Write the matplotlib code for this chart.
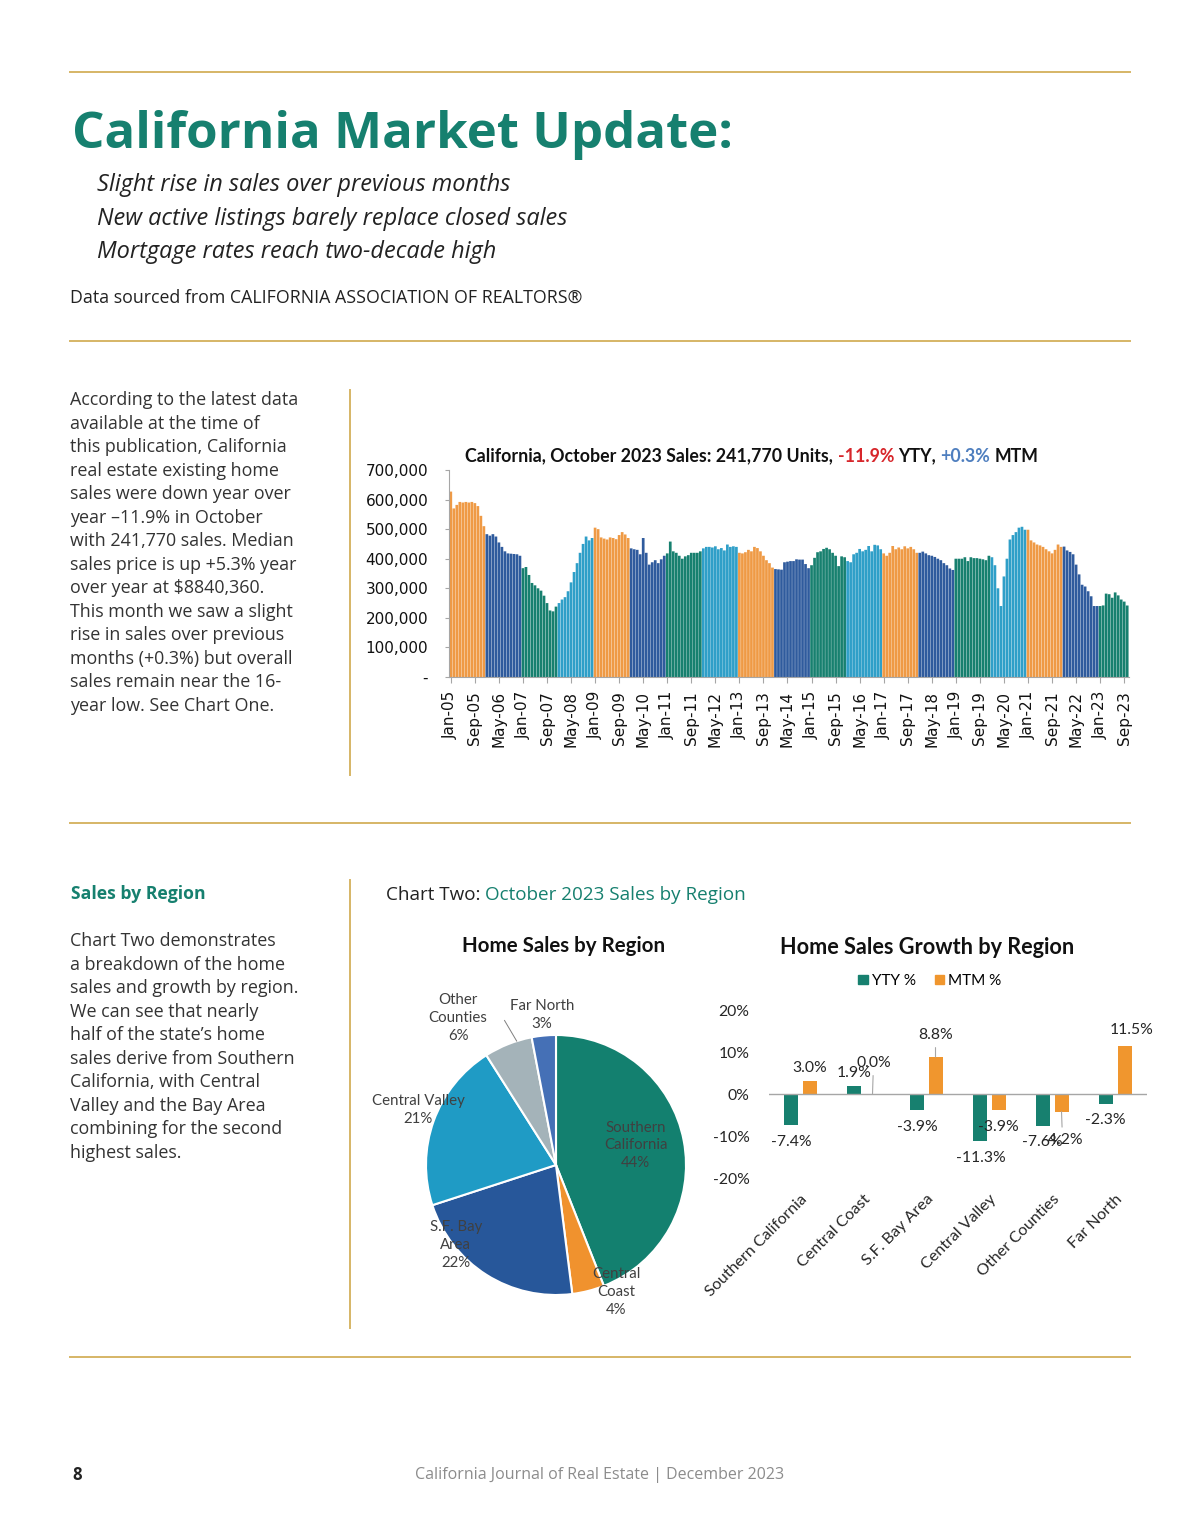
import matplotlib
matplotlib.use("Agg")
import matplotlib.pyplot as plt
from matplotlib.lines import Line2D
from matplotlib.patches import Patch
import numpy as np

W, H = 1200, 1535
TEAL = "#16806f"
GOLD = "#d6b566"
TEXT = "#333333"
ORANGE = "#ef9a45"
DBLUE = "#2f5b9d"
GREEN = "#17806f"
LBLUE = "#2f9fc8"

# ---- Chart One: monthly sales (thousands of units), Jan-05 .. Oct-23
sales_2005 = [627, 570, 582, 592, 590, 592, 590, 592, 588, 578, 545, 510]
sales_2006 = [483, 478, 483, 475, 455, 440, 425, 418, 417, 416, 415, 410]
sales_2007 = [368, 372, 345, 318, 310, 300, 292, 275, 250, 225, 222, 238]
sales_2008 = [250, 262, 270, 290, 320, 355, 385, 420, 450, 475, 462, 470]
sales_2009 = [505, 500, 472, 468, 465, 472, 470, 466, 480, 490, 482, 470]
sales_2010 = [435, 432, 430, 415, 470, 420, 380, 388, 395, 385, 398, 410]
sales_2011 = [418, 458, 425, 420, 410, 400, 408, 412, 420, 420, 420, 425]
sales_2012 = [435, 440, 440, 438, 442, 432, 436, 428, 448, 440, 442, 440]
sales_2013 = [420, 418, 422, 430, 425, 440, 436, 425, 410, 395, 385, 370]
sales_2014 = [365, 364, 363, 388, 390, 392, 392, 398, 397, 397, 382, 368]
sales_2015 = [378, 403, 422, 425, 433, 437, 432, 420, 410, 375, 408, 405]
sales_2016 = [392, 388, 415, 420, 433, 425, 430, 443, 425, 447, 445, 432]
sales_2017 = [418, 410, 420, 443, 432, 438, 432, 442, 435, 440, 432, 420]
sales_2018 = [420, 424, 418, 412, 410, 406, 400, 395, 385, 378, 367, 362]
sales_2019 = [400, 400, 400, 405, 392, 405, 402, 402, 400, 398, 395, 410]
sales_2020 = [405, 378, 300, 240, 340, 400, 465, 480, 490, 505, 508, 498]
sales_2021 = [498, 462, 455, 448, 445, 440, 432, 425, 418, 430, 448, 440]
sales_2022 = [441, 428, 423, 415, 380, 347, 312, 306, 290, 273, 240, 240]
sales_2023 = [240, 242, 282, 280, 268, 286, 276, 262, 255, 241.77]

years = list(range(2005, 2024))
yearly = [sales_2005, sales_2006, sales_2007, sales_2008, sales_2009, sales_2010,
          sales_2011, sales_2012, sales_2013, sales_2014, sales_2015, sales_2016,
          sales_2017, sales_2018, sales_2019, sales_2020, sales_2021, sales_2022,
          sales_2023]
months = ["Jan", "Feb", "Mar", "Apr", "May", "Jun", "Jul", "Aug", "Sep", "Oct", "Nov", "Dec"]
year_colors = [ORANGE, DBLUE, GREEN, LBLUE]

# ---- Chart Two: regions
regions = ["Southern California", "Central Coast", "S.F. Bay Area",
           "Central Valley", "Other Counties", "Far North"]
pie_names = ["Southern\nCalifornia", "Central\nCoast", "S.F. Bay\nArea",
             "Central Valley", "Other\nCounties", "Far North"]
region_share = [44, 4, 22, 21, 6, 3]
pie_colors = ["#13806f", "#f0922e", "#27579a", "#1f9bc5", "#a4b3b9", "#4570b6"]
yty_pct = [-7.4, 1.9, -3.9, -11.3, -7.6, -2.3]
mtm_pct = [3.0, 0.0, 8.8, -3.9, -4.2, 11.5]

para1 = ["According to the latest data", "available at the time of",
         "this publication, California", "real estate existing home",
         "sales were down year over", "year \u201311.9% in October",
         "with 241,770 sales. Median", "sales price is up +5.3% year",
         "over year at $8840,360.", "This month we saw a slight",
         "rise in sales over previous", "months (+0.3%) but overall",
         "sales remain near the 16-", "year low. See Chart One."]
para2 = ["Chart Two demonstrates", "a breakdown of the home",
         "sales and growth by region.", "We can see that nearly",
         "half of the state\u2019s home", "sales derive from Southern",
         "California, with Central", "Valley and the Bay Area",
         "combining for the second", "highest sales."]

#-------------------------------------------------------------------------------

fig = plt.figure(figsize=(W / 100, H / 100), dpi=100)
fig.patch.set_facecolor("white")
rend = fig.canvas.get_renderer()

def fx(x): return x / W
def fy(y): return 1 - y / H

def ptext(x, y, s, **kw):
  kw.setdefault("va", "center")
  return fig.text(fx(x), fy(y), s, **kw)

def fit(t, width):
  w = t.get_window_extent(rend).width
  t.set_fontsize(t.get_fontsize() * width / w)
  return t.get_fontsize()

def hline(y, x0=70, x1=1130):
  fig.add_artist(Line2D([fx(x0), fx(x1)], [fy(y), fy(y)], color=GOLD, lw=1.4))

def vline(x, y0, y1):
  fig.add_artist(Line2D([fx(x), fx(x)], [fy(y0), fy(y1)], color=GOLD, lw=1.4))

def add_ax(x0, y0, x1, y1):
  return fig.add_axes([fx(x0), fy(y1), (x1 - x0) / W, (y1 - y0) / H])

def text_run(x, y, pieces, ha="left", width=None, **kw):
  """ Draw differently coloured pieces of text on one line """
  def build(kw):
    objs = [ptext(0, y, s, color=c, **kw) for s, c in pieces]
    widths = [o.get_window_extent(rend).width for o in objs]
    a = ptext(0, y, "a a", **kw); b = ptext(0, y, "aa", **kw)
    sp = a.get_window_extent(rend).width - b.get_window_extent(rend).width
    a.remove(); b.remove()
    return objs, widths, sp
  objs, widths, sp = build(kw)
  total = sum(widths) + sp * (len(objs) - 1)
  if width is not None:
    for o in objs:
      o.remove()
    kw["fontsize"] = kw["fontsize"] * width / total
    objs, widths, sp = build(kw)
    total = sum(widths) + sp * (len(objs) - 1)
  cur = x - total / 2 if ha == "center" else x
  for o, w in zip(objs, widths):
    o.set_x(fx(cur))
    cur += w + sp

# ---- page furniture
for y in [72, 341, 823, 1357]:
  hline(y)
vline(350, 390, 775)
vline(350, 880, 1328)

t = ptext(72, 135, "California Market Update:", color=TEAL, fontsize=40,
          fontweight="bold", family="Open Sans")
fit(t, 660)
sub = ["Slight rise in sales over previous months",
       "New active listings barely replace closed sales",
       "Mortgage rates reach two-decade high"]
st = [ptext(97, y, s, color="#222222", fontsize=17, style="italic", family="Open Sans")
      for s, y in zip(sub, [185, 219, 252])]
fs = fit(st[1], 471)
for s in st:
  s.set_fontsize(fs)
t = ptext(70, 298, "Data sourced from CALIFORNIA ASSOCIATION OF REALTORS\u00ae",
          color="#222222", fontsize=12, family="Open Sans")
fit(t, 508)

pt = [ptext(70, 400 + i * 23.54, s, color=TEXT, fontsize=12, family="Open Sans")
      for i, s in enumerate(para1)]
fs = fit(pt[0], 227)
for p in pt:
  p.set_fontsize(fs)
for i, s in enumerate(para2):
  ptext(70, 941 + i * 23.56, s, color=TEXT, fontsize=fs, family="Open Sans")
t = ptext(71, 894, "Sales by Region", color=TEAL, fontsize=13, fontweight="bold",
          family="Open Sans")
fit(t, 134)
text_run(386, 895, [("Chart Two:", "#222222"), ("October 2023 Sales by Region", TEAL)],
         width=360, fontsize=13.2, family="Open Sans")

ptext(72, 1475, "8", fontsize=12, fontweight="bold", family="Open Sans", color="#222222")
t = ptext(600, 1475, "California Journal of Real Estate | December 2023", ha="center",
          color="#8c8c8c", fontsize=12, family="Open Sans")
fit(t, 368)

# ---- Chart One
ax1 = add_ax(449, 470, 1129, 677)
sales = np.concatenate([np.array(v, dtype=float) * 1000 for v in yearly])
cols = [year_colors[(yr - 2005) % 4] for yr, vals in zip(years, yearly) for _ in vals]
labels = ["{}-{:02d}".format(months[i % 12], (2005 + i // 12) % 100) for i in range(len(sales))]
x = np.arange(len(sales))
ax1.bar(x, sales, width=0.9, color=cols, linewidth=0, snap=False)
ax1.set_xlim(-0.6, len(sales) - 0.4)
ax1.set_ylim(0, 700000)
ax1.set_yticks(np.arange(0, 700001, 100000))
ax1.set_yticklabels(["-"] + ["{:,}".format(v) for v in range(100000, 700001, 100000)])
ax1.set_xticks(x[::8])
ax1.set_xticklabels(labels[::8], rotation=90)
for s in ["top", "right"]:
  ax1.spines[s].set_visible(False)
for s in ["left", "bottom"]:
  ax1.spines[s].set_color("#a6a6a6")
  ax1.spines[s].set_linewidth(0.8)
ax1.tick_params(axis="y", length=3, color="#a6a6a6", pad=12, labelsize=11,
                labelcolor="#111111")
ax1.tick_params(axis="x", length=4, color="#a6a6a6", pad=6, labelsize=11,
                labelcolor="#111111")
for lab in ax1.get_xticklabels() + ax1.get_yticklabels():
  lab.set_family("DejaVu Sans")

text_run(752, 456, [("California, October 2023 Sales: 241,770 Units,", "#111111"),
                    ("-11.9%", "#d7262b"), ("YTY,", "#111111"),
                    ("+0.3%", "#4f7fbf"), ("MTM", "#111111")],
         ha="center", width=569, fontsize=12, fontweight="bold", family="Lato")

# ---- Chart Two, pie
t = ptext(564, 946, "Home Sales by Region", ha="center", fontsize=15, fontweight="bold",
          family="Lato", color="#111111")
fit(t, 204)
ax2 = add_ax(426, 1035, 686, 1295)
wedges, _ = ax2.pie(region_share, colors=pie_colors, startangle=90, counterclock=False,
                    wedgeprops=dict(edgecolor="white", linewidth=1.5))
ax2.set_xlim(-1, 1)
ax2.set_ylim(-1, 1)
# label placement: (radius, angle tweak in degrees)
label_pos = [(0.63, 3), (1.08, 11), (0.985, -19), (1.14, -2), (1.36, 12), (1.16, 0)]
cum = np.cumsum([0] + region_share)
for i, (name, share) in enumerate(zip(pie_names, region_share)):
  mid = 90 - (cum[i] + share / 2) * 3.6
  r, tw = label_pos[i]
  a = np.radians(mid + tw)
  ax2.text(r * np.cos(a), r * np.sin(a), "{}\n{}%".format(name, share), ha="center",
           va="center", fontsize=10.8, family="Lato", color="#404040",
           linespacing=1.35, clip_on=False)
  if name.startswith("Other"):
    a0, a1 = np.radians(mid - 2), np.radians(mid - 4)
    ax2.plot([1.18 * np.cos(a0), 1.0 * np.cos(a1)], [1.18 * np.sin(a0), 1.0 * np.sin(a1)],
             color="#7f7f7f", lw=0.7, clip_on=False)

# ---- Chart Two, growth bars
t = ptext(927, 947, "Home Sales Growth by Region", ha="center", fontsize=15,
          fontweight="bold", family="Lato", color="#111111")
fit(t, 295)
ax3 = add_ax(769, 1010, 1147, 1178)
xr = np.arange(len(regions))
bw = 0.222
ax3.bar(xr - 0.143, yty_pct, width=bw, color=GREEN)
ax3.bar(xr + 0.143, mtm_pct, width=bw, color="#f0962e")
ax3.axhline(0, color="#a6a6a6", lw=1)
ax3.set_xlim(-0.5, len(regions) - 0.5)
ax3.set_ylim(-20, 20)
ax3.set_yticks([-20, -10, 0, 10, 20])
ax3.set_yticklabels(["{}%".format(v) for v in [-20, -10, 0, 10, 20]])
ax3.set_xticks(xr)
ax3.set_xticklabels(regions, rotation=45, ha="right", rotation_mode="anchor")
for s in ax3.spines.values():
  s.set_visible(False)
ax3.tick_params(axis="y", length=0, pad=14, labelsize=11.3, labelcolor="#262626")
ax3.tick_params(axis="x", length=0, pad=10, labelsize=11.6, labelcolor="#262626")
for lab in ax3.get_xticklabels() + ax3.get_yticklabels():
  lab.set_family("Lato")

# label offsets in pixels (dx, dy) and leader flags
yty_off = [(0, -17), (0, 13), (0, -17), (0, -17), (-1, -16), (-1, -16)]
mtm_off = [(0, 13), (1, 31), (0, 22), (0, -17), (1, -28), (7, 16)]
mtm_lead = [False, True, True, False, True, False]
for i in range(len(regions)):
  for val, off, dx, lead in [(yty_pct[i], yty_off[i], -0.143, False),
                             (mtm_pct[i], mtm_off[i], 0.143, mtm_lead[i])]:
    kw = {}
    if lead:
      kw["arrowprops"] = dict(arrowstyle="-", color="#a6a6a6", lw=0.8, shrinkA=2, shrinkB=0)
    ax3.annotate("{:.1f}%".format(val), (i + dx, val), xytext=(off[0] * 0.72, off[1] * 0.72),
                 textcoords="offset points", ha="center", va="center", fontsize=11.3,
                 family="Lato", color="#262626", annotation_clip=False, **kw)

handles = [Patch(color=GREEN), Patch(color="#f0962e")]
fig.legend(handles, ["YTY %", "MTM %"], loc="center", bbox_to_anchor=(fx(930), fy(981)),
           ncol=2, frameon=False, handlelength=0.6, handleheight=0.6, handletextpad=0.3,
           columnspacing=1.2, prop=dict(family="Lato", size=11))

fig.savefig("out.png", dpi=100, facecolor="white")
